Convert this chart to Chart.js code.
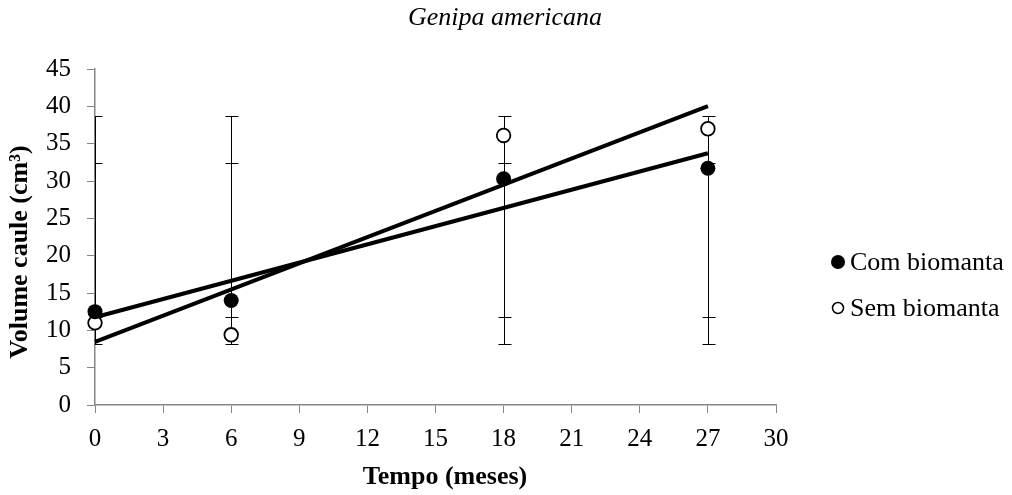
<!DOCTYPE html>
<html>
<head>
<meta charset="utf-8">
<script src="https://cdn.jsdelivr.net/npm/chart.js@4.4.1/dist/chart.umd.min.js"></script>
<style>
  html, body { margin: 0; padding: 0; background: #fff; }
  canvas { display: block; }
</style>
</head>
<body>
<canvas id="chart" width="1012" height="495"></canvas>
<script>
// Dados
const months = [0, 6, 18, 27]
const comBiomanta = [12.5, 14.0, 30.3, 31.7]
const semBiomanta = [11.0, 9.4, 36.1, 37.0]
// barras de erro (limites inferior / superior)
const comErrLow = [11.8, 11.8, 11.8, 11.8]
const comErrHigh = [32.4, 32.4, 32.4, 32.4]
const semErrLow = [8.2, 8.2, 8.2, 8.2]
const semErrHigh = [38.7, 38.7, 38.7, 38.7]
const xTicks = [0, 3, 6, 9, 12, 15, 18, 21, 24, 27, 30]
const yTicks = [0, 5, 10, 15, 20, 25, 30, 35, 40, 45]

const serif = "'Liberation Serif', 'Times New Roman', serif"
const axisGray = "#868686"

// linha de tendencia linear (minimos quadrados)
function trend(xs, ys) {
  const n = xs.length
  const mx = xs.reduce((a, b) => a + b, 0) / n
  const my = ys.reduce((a, b) => a + b, 0) / n
  let sxy = 0, sxx = 0
  xs.forEach((x, i) => {
    sxy += (x - mx) * (ys[i] - my)
    sxx += (x - mx) * (x - mx)
  })
  const m = sxy / sxx
  const b = my - m * mx
  const x0 = xs[0], x1 = xs[n - 1]
  return [{ x: x0, y: b + m * x0 }, { x: x1, y: b + m * x1 }]
}

const toPoints = (ys) => months.map((x, i) => ({ x: x, y: ys[i] }))

const extras = {
  id: "extras",
  beforeDatasetsDraw(chart) {
    const { ctx, chartArea, scales } = chart
    const sx = scales.x, sy = scales.y
    ctx.save()
    ctx.beginPath()
    ctx.rect(chartArea.left, chartArea.top - 1, chartArea.right - chartArea.left, chartArea.bottom - chartArea.top + 2)
    ctx.clip()
    ctx.strokeStyle = "#000"
    ctx.lineWidth = 1
    const bars = [[semErrLow, semErrHigh], [comErrLow, comErrHigh]]
    bars.forEach(([lo, hi]) => {
      months.forEach((m, i) => {
        const px = Math.round(sx.getPixelForValue(m)) + 0.5
        const y1 = Math.round(sy.getPixelForValue(lo[i])) + 0.5
        const y2 = Math.round(sy.getPixelForValue(hi[i])) + 0.5
        ctx.beginPath()
        ctx.moveTo(px, y1); ctx.lineTo(px, y2)
        ctx.moveTo(px - 6, y1); ctx.lineTo(px + 7, y1)
        ctx.moveTo(px - 6, y2); ctx.lineTo(px + 7, y2)
        ctx.stroke()
      })
    })
    ctx.restore()
  },
  afterDraw(chart) {
    const { ctx } = chart
    ctx.save()
    ctx.fillStyle = "#000"
    ctx.textBaseline = "middle"

    // titulo
    ctx.textAlign = "center"
    ctx.font = "italic 26px " + serif
    ctx.fillText("Genipa americana", 505, 18)

    // titulo eixo x
    ctx.font = "bold 26px " + serif
    ctx.fillText("Tempo (meses)", 445, 477)

    // titulo eixo y
    ctx.save()
    ctx.translate(20, 252)
    ctx.rotate(-Math.PI / 2)
    ctx.fillText("Volume caule (cm³)", 0, 0)
    ctx.restore()

    // legenda
    ctx.font = "26px " + serif
    ctx.textAlign = "left"
    ctx.lineWidth = 1.5
    ctx.beginPath()
    ctx.arc(838, 262, 7, 0, Math.PI * 2)
    ctx.fill()
    ctx.fillText("Com biomanta", 850, 263)
    ctx.beginPath()
    ctx.arc(838, 308, 5.5, 0, Math.PI * 2)
    ctx.strokeStyle = "#000"
    ctx.stroke()
    ctx.fillText("Sem biomanta", 850, 309)
    ctx.restore()
  }
}

new Chart(document.getElementById("chart"), {
  type: "scatter",
  data: {
    datasets: [
      {
        label: "Com biomanta",
        data: toPoints(comBiomanta),
        backgroundColor: "#000",
        borderColor: "#000",
        pointRadius: 7.5,
        borderWidth: 0,
        clip: false
      },
      {
        label: "Sem biomanta",
        data: toPoints(semBiomanta),
        backgroundColor: "#fff",
        borderColor: "#000",
        pointRadius: 6.8,
        borderWidth: 1.8,
        clip: false
      },
      {
        label: "Tendencia com",
        data: trend(months, comBiomanta),
        showLine: true,
        borderColor: "#000",
        borderWidth: 4,
        pointRadius: 0,
        clip: false
      },
      {
        label: "Tendencia sem",
        data: trend(months, semBiomanta),
        showLine: true,
        borderColor: "#000",
        borderWidth: 4,
        pointRadius: 0,
        clip: false
      }
    ]
  },
  options: {
    responsive: false,
    animation: false,
    devicePixelRatio: 1,
    layout: { padding: { left: 0, top: 69, right: 236, bottom: 0 } },
    plugins: {
      legend: { display: false },
      tooltip: { enabled: false }
    },
    scales: {
      x: {
        type: "linear",
        min: 0,
        max: 30,
        afterBuildTicks: (scale) => { scale.ticks = xTicks.map((v) => ({ value: v })) },
        afterFit: (scale) => { scale.height = 90 },
        ticks: { color: "#000", font: { family: serif, size: 25 }, padding: 11, maxRotation: 0 },
        grid: { drawOnChartArea: false, color: axisGray, tickLength: 8 },
        border: { color: axisGray, width: 1.5 }
      },
      y: {
        min: 0,
        max: 45,
        afterBuildTicks: (scale) => { scale.ticks = yTicks.map((v) => ({ value: v })) },
        afterFit: (scale) => { scale.width = 95 },
        ticks: { color: "#000", font: { family: serif, size: 25 }, padding: 16 },
        grid: { drawOnChartArea: false, color: axisGray, tickLength: 8 },
        border: { color: axisGray, width: 1.5 }
      }
    }
  },
  plugins: [extras]
})
</script>
</body>
</html>
